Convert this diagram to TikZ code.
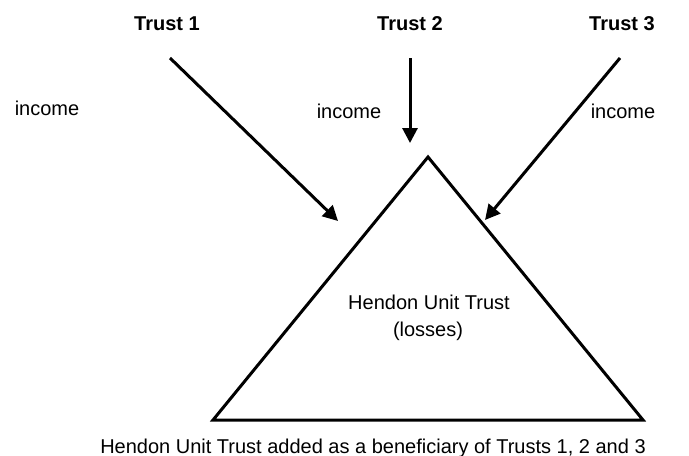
\documentclass[tikz,border=0pt]{standalone}
\usepackage{fontspec}
\setmainfont{Liberation Sans}
\usetikzlibrary{arrows.meta}
\tikzset{
  flow/.style={line width=1.5pt, -{Triangle[width=7.5pt,length=7.5pt]}},
  trust/.style={anchor=base, font=\bfseries},
  txt/.style={anchor=base}
}
\begin{document}
\begin{tikzpicture}[x=.5pt, y=-.5pt]
        \useasboundingbox (0,0) rectangle (689,455);
        % trusts on top
        \node[trust] (t1) at (167,30) {Trust 1};
        \node[trust] (t2) at (410,30) {Trust 2};
        \node[trust] (t3) at (622,30) {Trust 3};
        \node[txt] (inc1) at (47,115) {income};
        \node[txt] (inc2) at (349,118) {income};
        \node[txt] (inc3) at (623,118) {income};
        % arrows into the unit trust
        \coordinate (s1) at (170,58);  \coordinate (e1) at (338,221);
        \coordinate (s2) at (410,58);  \coordinate (e2) at (410,143);
        \coordinate (s3) at (620,58);  \coordinate (e3) at (485,220);
        \draw[flow] (s1) -- (e1);
        \draw[flow] (s2) -- (e2);
        \draw[flow] (s3) -- (e3);
        % the triangle
        \coordinate (top) at (428,157);
        \coordinate (bl) at (213,420);
        \coordinate (br) at (643,420);
        \draw[line width=1.5pt] (top) -- (br) -- (bl) -- cycle;
        \node[txt] (hut) at (429,309) {Hendon Unit Trust};
        \node[txt] (loss) at (428,336) {(losses)};
        \node[txt] (cap) at (373,453) {Hendon Unit Trust added as a beneficiary of Trusts 1, 2 and 3};
\end{tikzpicture}
\end{document}
